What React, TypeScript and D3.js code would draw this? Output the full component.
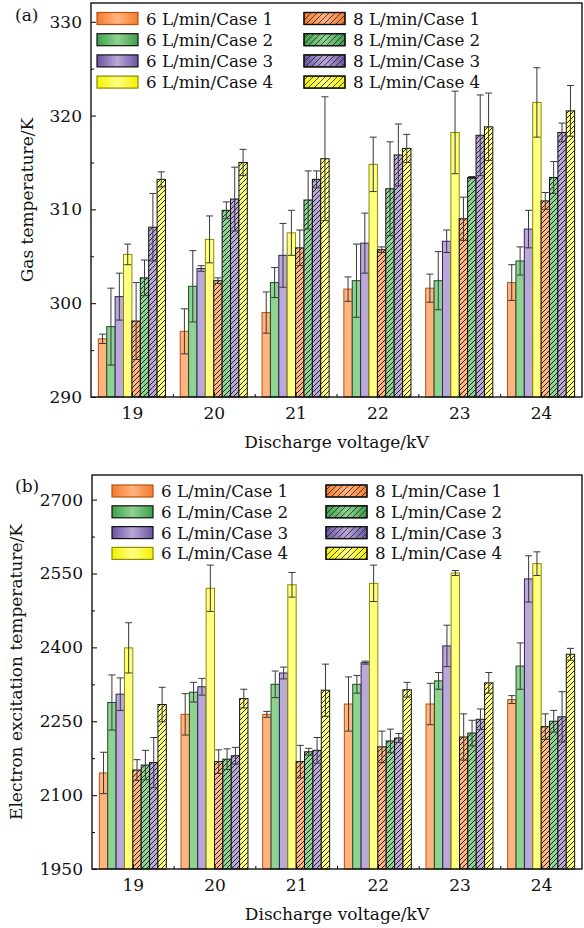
import React, { useEffect, useRef } from "react";
import * as d3 from "d3";

// discharge voltages (kV)
const voltages = [19, 20, 21, 22, 23, 24];

const seriesNames = [
  "6 L/min/Case 1",
  "6 L/min/Case 2",
  "6 L/min/Case 3",
  "6 L/min/Case 4",
  "8 L/min/Case 1",
  "8 L/min/Case 2",
  "8 L/min/Case 3",
  "8 L/min/Case 4",
];

// (a) gas temperature, K
const gas6Case1 = [296.2, 297.0, 299.0, 301.5, 301.6, 302.2];
const gas6Case2 = [297.5, 301.8, 302.2, 302.4, 302.4, 304.5];
const gas6Case3 = [300.7, 303.7, 305.1, 306.4, 306.6, 307.9];
const gas6Case4 = [305.2, 306.8, 307.5, 314.8, 318.2, 321.4];
const gas8Case1 = [298.1, 302.4, 305.9, 305.7, 309.0, 310.9];
const gas8Case2 = [302.7, 309.9, 311.0, 312.2, 313.4, 313.4];
const gas8Case3 = [308.1, 311.1, 313.2, 315.8, 317.9, 318.2];
const gas8Case4 = [313.2, 315.0, 315.4, 316.5, 318.8, 320.5];

const gasErr6Case1 = [0.5, 2.4, 2.2, 1.3, 1.5, 1.9];
const gasErr6Case2 = [4.1, 3.8, 1.6, 3.9, 3.1, 1.5];
const gasErr6Case3 = [2.5, 0.3, 3.4, 3.2, 1.2, 2.0];
const gasErr6Case4 = [1.1, 2.5, 2.4, 2.9, 4.4, 3.7];
const gasErr8Case1 = [4.1, 0.3, 1.9, 0.3, 2.3, 0.9];
const gasErr8Case2 = [1.9, 0.9, 3.1, 5.0, 0.1, 1.7];
const gasErr8Case3 = [3.6, 3.4, 0.9, 3.3, 4.3, 1.0];
const gasErr8Case4 = [0.8, 1.4, 6.6, 1.5, 3.6, 2.7];

// (b) electron excitation temperature, K
const exc6Case1 = [2145, 2264, 2264, 2285, 2285, 2294];
const exc6Case2 = [2288, 2309, 2325, 2325, 2332, 2362];
const exc6Case3 = [2305, 2320, 2348, 2369, 2403, 2539];
const exc6Case4 = [2399, 2520, 2527, 2530, 2551, 2570];
const exc8Case1 = [2151, 2168, 2168, 2198, 2218, 2239];
const exc8Case2 = [2161, 2173, 2188, 2210, 2226, 2250];
const exc8Case3 = [2166, 2180, 2191, 2216, 2254, 2259];
const exc8Case4 = [2284, 2296, 2313, 2314, 2328, 2386];

const excErr6Case1 = [42, 42, 6, 55, 42, 8];
const excErr6Case2 = [56, 20, 27, 18, 17, 47];
const excErr6Case3 = [33, 17, 12, 3, 42, 47];
const excErr6Case4 = [51, 47, 25, 37, 5, 24];
const excErr8Case1 = [21, 24, 33, 32, 47, 26];
const excErr8Case2 = [30, 21, 7, 24, 26, 22];
const excErr8Case3 = [51, 17, 26, 9, 21, 51];
const excErr8Case4 = [35, 19, 53, 15, 21, 12];

const gasTicks = [290, 300, 310, 320, 330];
const excTicks = [1950, 2100, 2250, 2400, 2550, 2700];

// fill (light), legend edge (dark), bar outline
const fillColors = ["#ffb482", "#8fd393", "#baa8d8", "#ffff80"];
const edgeColors = ["#f47b2c", "#3e9f4a", "#6a54a2", "#f2f200"];
const strokeColors = ["#b8520c", "#1d4d22", "#33245a", "#8c8a00"];

const FONT = "'DejaVu Serif', serif";

const W = 584;
const H = 928;

type PanelCfg = {
  id: string;
  tag: string;
  box: { left: number; right: number; top: number; bottom: number };
  yDomain: [number, number];
  ticks: number[];
  minorStep: number;
  values: number[][];
  errors: number[][];
  yTitle: string;
  yTitleX: number;
  legend: { y0: number; step: number; col1: number; col2: number };
  tagY: number;
};

const panels: PanelCfg[] = [
  {
    id: "a",
    tag: "(a)",
    box: { left: 91, right: 582, top: 3, bottom: 397 },
    yDomain: [290, 332],
    ticks: gasTicks,
    minorStep: 5,
    values: [gas6Case1, gas6Case2, gas6Case3, gas6Case4, gas8Case1, gas8Case2, gas8Case3, gas8Case4],
    errors: [gasErr6Case1, gasErr6Case2, gasErr6Case3, gasErr6Case4, gasErr8Case1, gasErr8Case2, gasErr8Case3, gasErr8Case4],
    yTitle: "Gas temperature/K",
    yTitleX: 33,
    legend: { y0: 18.5, step: 21.2, col1: 97, col2: 304 },
    tagY: 21,
  },
  {
    id: "b",
    tag: "(b)",
    box: { left: 92, right: 582, top: 475, bottom: 869 },
    yDomain: [1950, 2750],
    ticks: excTicks,
    minorStep: 75,
    values: [exc6Case1, exc6Case2, exc6Case3, exc6Case4, exc8Case1, exc8Case2, exc8Case3, exc8Case4],
    errors: [excErr6Case1, excErr6Case2, excErr6Case3, excErr6Case4, excErr8Case1, excErr8Case2, excErr8Case3, excErr8Case4],
    yTitle: "Electron excitation temperature/K",
    yTitleX: 22,
    legend: { y0: 491, step: 20.8, col1: 112, col2: 326 },
    tagY: 492,
  },
];

const App = () => {
  const svgRef = useRef<SVGSVGElement>(null);

  useEffect(() => {
    const svg = d3.select(svgRef.current);
    svg.selectAll("*").remove();

    const defs = svg.append("defs");
    // hatch patterns for the 8 L/min bars
    fillColors.forEach((c, i) => {
      const p = defs
        .append("pattern")
        .attr("id", `hatch${i}`)
        .attr("patternUnits", "userSpaceOnUse")
        .attr("width", 5)
        .attr("height", 5);
      p.append("rect").attr("width", 5).attr("height", 5).attr("fill", c);
      p.append("path")
        .attr("d", "M-1,1 l2,-2 M0,5 l5,-5 M4,6 l2,-2")
        .attr("stroke", "#111")
        .attr("stroke-width", 0.9);

      const gr = defs.append("linearGradient").attr("id", `grad${i}`);
      gr.append("stop").attr("offset", "0%").attr("stop-color", edgeColors[i]);
      gr.append("stop").attr("offset", "50%").attr("stop-color", c);
      gr.append("stop").attr("offset", "100%").attr("stop-color", edgeColors[i]);
    });
    const hl = defs
      .append("pattern")
      .attr("id", "hatchLines")
      .attr("patternUnits", "userSpaceOnUse")
      .attr("width", 6)
      .attr("height", 6);
    hl.append("path")
      .attr("d", "M-1,1 l2,-2 M0,6 l6,-6 M5,7 l2,-2")
      .attr("stroke", "#222")
      .attr("stroke-width", 0.8);

    panels.forEach((cfg) => {
      const { left, right, top, bottom } = cfg.box;
      const g = svg.append("g").attr("class", `panel-${cfg.id}`);

      const x = d3.scaleLinear().domain([18.5, 24.5]).range([left, right]);
      const y = d3.scaleLinear().domain(cfg.yDomain).range([bottom, top]);
      const groupW = (x(20) - x(19)) * 0.82;
      const inner = d3
        .scaleBand<number>()
        .domain(d3.range(seriesNames.length))
        .range([-groupW / 2, groupW / 2])
        .padding(0);

      // bars
      cfg.values.forEach((vals, s) => {
        const ci = s % 4;
        const hatched = s >= 4;
        g.append("g")
          .selectAll("rect")
          .data(vals)
          .join("rect")
          .attr("x", (_, i) => x(voltages[i]) + inner(s)!)
          .attr("y", (d) => y(d))
          .attr("width", inner.bandwidth())
          .attr("height", (d) => y(cfg.yDomain[0]) - y(d))
          .attr("fill", hatched ? `url(#hatch${ci})` : fillColors[ci])
          .attr("stroke", hatched ? "#111" : strokeColors[ci])
          .attr("stroke-width", 1);
      });

      // error bars
      const cap = 3.5;
      cfg.values.forEach((vals, s) => {
        const eg = g.append("g").attr("stroke", "#383838").attr("stroke-width", 1);
        vals.forEach((v, i) => {
          const cx = x(voltages[i]) + inner(s)! + inner.bandwidth() / 2;
          const e = cfg.errors[s][i];
          const y1 = y(v + e);
          const y2 = y(v - e);
          eg.append("line").attr("x1", cx).attr("x2", cx).attr("y1", y1).attr("y2", y2);
          eg.append("line").attr("x1", cx - cap).attr("x2", cx + cap).attr("y1", y1).attr("y2", y1);
          eg.append("line").attr("x1", cx - cap).attr("x2", cx + cap).attr("y1", y2).attr("y2", y2);
        });
      });

      // y axis
      const yAxis = d3
        .axisLeft(y)
        .tickValues(cfg.ticks)
        .tickSize(-5)
        .tickPadding(9)
        .tickFormat(d3.format("d"));
      const ya = g.append("g").attr("transform", `translate(${left},0)`).call(yAxis);
      ya.select(".domain").remove();
      ya.selectAll("text").attr("font-family", FONT).attr("font-size", 17).attr("fill", "#111");

      const minorY = d3.range(cfg.yDomain[0], cfg.yDomain[1], cfg.minorStep).filter((v) => !cfg.ticks.includes(v));
      const ym = g
        .append("g")
        .attr("transform", `translate(${left},0)`)
        .call(d3.axisLeft(y).tickValues(minorY).tickSize(-3).tickFormat(() => ""));
      ym.select(".domain").remove();

      // x axis
      const xAxis = d3
        .axisBottom(x)
        .tickValues(voltages)
        .tickSize(-5)
        .tickPadding(10)
        .tickFormat(d3.format("d"));
      const xa = g.append("g").attr("transform", `translate(0,${bottom})`).call(xAxis);
      xa.select(".domain").remove();
      xa.selectAll("text").attr("font-family", FONT).attr("font-size", 17).attr("fill", "#111");

      const xm = g
        .append("g")
        .attr("transform", `translate(0,${bottom})`)
        .call(d3.axisBottom(x).tickValues([19.5, 20.5, 21.5, 22.5, 23.5]).tickSize(-3).tickFormat(() => ""));
      xm.select(".domain").remove();

      // frame
      g.append("rect")
        .attr("x", left)
        .attr("y", top)
        .attr("width", right - left)
        .attr("height", bottom - top)
        .attr("fill", "none")
        .attr("stroke", "#111")
        .attr("stroke-width", 1.4);

      // titles
      g.append("text")
        .attr("x", (left + right) / 2)
        .attr("y", bottom + 51)
        .attr("text-anchor", "middle")
        .attr("font-family", FONT)
        .attr("font-size", 17)
        .attr("fill", "#111")
        .text("Discharge voltage/kV");

      g.append("text")
        .attr("transform", `translate(${cfg.yTitleX},${(top + bottom) / 2}) rotate(-90)`)
        .attr("text-anchor", "middle")
        .attr("font-family", FONT)
        .attr("font-size", 17)
        .attr("fill", "#111")
        .text(cfg.yTitle);

      g.append("text")
        .attr("x", 15)
        .attr("y", cfg.tagY)
        .attr("font-family", FONT)
        .attr("font-size", 17)
        .attr("fill", "#111")
        .text(cfg.tag);

      // legend
      const lg = g.append("g");
      seriesNames.forEach((name, s) => {
        const ci = s % 4;
        const row = s % 4;
        const lx = s < 4 ? cfg.legend.col1 : cfg.legend.col2;
        const cy = cfg.legend.y0 + row * cfg.legend.step;
        lg.append("rect")
          .attr("x", lx)
          .attr("y", cy - 6)
          .attr("width", 41)
          .attr("height", 12)
          .attr("fill", `url(#grad${ci})`)
          .attr("stroke", s < 4 && (ci === 0 || ci === 3) ? strokeColors[ci] : "#111")
          .attr("stroke-width", 1.2);
        if (s >= 4) {
          lg.append("rect")
            .attr("x", lx)
            .attr("y", cy - 6)
            .attr("width", 41)
            .attr("height", 12)
            .attr("fill", "url(#hatchLines)")
            .attr("stroke", "#111")
            .attr("stroke-width", 1.2);
        }
        lg.append("text")
          .attr("x", lx + 49)
          .attr("y", cy + 6)
          .attr("font-family", FONT)
          .attr("font-size", 16.7)
          .attr("fill", "#111")
          .text(name);
      });
    });
  }, []);

  return (
    <svg
      ref={svgRef}
      width={W}
      height={H}
      style={{ position: "absolute", left: 0, top: 0, background: "#fff" }}
    />
  );
};

export default App;
